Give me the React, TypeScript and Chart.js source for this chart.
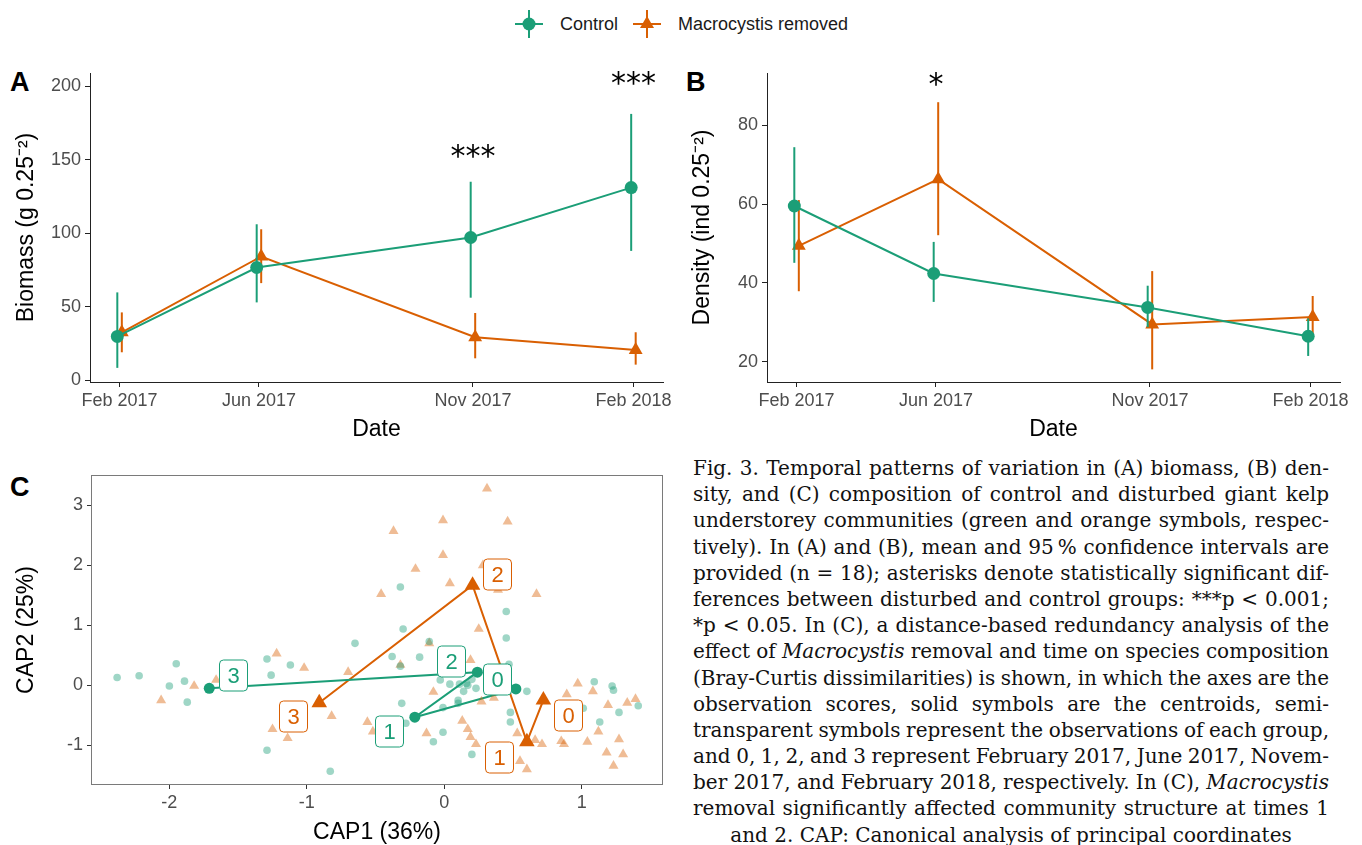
import React, { useEffect, useLayoutEffect, useRef } from "react";
import { Chart, registerables } from "chart.js";

Chart.register(...registerables);
Chart.defaults.font.family = '"Liberation Sans", Arial, sans-serif';

const GREEN = "#1B9E77";
const ORANGE = "#D95F02";
const GREEN_OBS = "rgba(27,158,119,0.42)";
const ORANGE_OBS = "rgba(217,95,2,0.42)";
const TICK_COLOR = "#4D4D4D";

// ---------- Panels A & B: dates ----------
const DATE_LABELS = ["Feb 2017", "Jun 2017", "Nov 2017", "Feb 2018"];
const DATE_DAYS = [0, 99, 251, 365];
const DODGE_DAYS = 1.6;

// Panel A: biomass (mean, 95% CI)
const BIOMASS_CONTROL = [30, 76.8, 97.2, 131.1];
const BIOMASS_CONTROL_LO = [8.6, 53.1, 56.3, 88.1];
const BIOMASS_CONTROL_HI = [59.9, 106.2, 135.1, 181.2];
const BIOMASS_REMOVED = [32.8, 84.3, 29.4, 20.8];
const BIOMASS_REMOVED_LO = [19.2, 66.2, 15.1, 10.8];
const BIOMASS_REMOVED_HI = [46.3, 102.8, 45.9, 32.8];
const BIOMASS_TICKS = [0, 50, 100, 150, 200];
const BIOMASS_SIG_INDEX = [2, 3];
const BIOMASS_SIG_Y = [151, 201];
const BIOMASS_SIG_TEXT = ["***", "***"];

// Panel B: density (mean, 95% CI)
const DENSITY_CONTROL = [59.5, 42.4, 33.8, 26.5];
const DENSITY_CONTROL_LO = [45.1, 35.2, 28.8, 21.5];
const DENSITY_CONTROL_HI = [74.4, 50.4, 39.3, 31.0];
const DENSITY_REMOVED = [49.4, 66.3, 29.5, 31.4];
const DENSITY_REMOVED_LO = [37.9, 52.1, 18.1, 26.0];
const DENSITY_REMOVED_HI = [61.0, 85.8, 43.0, 36.7];
const DENSITY_TICKS = [20, 40, 60, 80];
const DENSITY_SIG_INDEX = [1];
const DENSITY_SIG_Y = [89.8];
const DENSITY_SIG_TEXT = ["*"];

// ---------- Panel C: CAP ordination ----------
const CAP_X_TICKS = [-2, -1, 0, 1];
const CAP_Y_TICKS = [-1, 0, 1, 2, 3];

const CAP_CONTROL_OBS: [number, number][] = [
  [-2.38, 0.13], [-2.22, 0.16], [-1.95, 0.36], [-2.0, -0.01], [-1.89, 0.07], [-1.87, -0.28],
  [-1.29, 0.44], [-1.26, 0.17], [-1.12, 0.34], [-1.29, -1.08],
  [-0.32, 1.64], [0.45, 1.23], [0.45, 0.79], [-0.3, 0.94], [-0.65, 0.7], [-0.11, 0.73],
  [-0.38, 0.48], [-0.18, 0.47], [-0.32, 0.32], [-0.03, 0.09], [0.04, 0.02], [0.11, 0.02],
  [0.14, -0.1], [0.17, 0.0], [0.23, -0.05], [0.2, 0.1], [0.16, 0.03], [0.1, -0.25],
  [-0.31, -0.3], [-0.01, -0.37], [0.1, -0.3], [-0.28, -0.63], [-0.01, -0.78], [-0.08, -0.94],
  [0.2, -1.15], [-0.83, -1.43], [0.48, -0.45], [0.48, -0.61], [0.47, 0.35], [0.6, -0.1],
  [1.09, 0.06], [1.22, -0.01], [1.23, -0.08], [1.41, -0.34], [1.27, -0.45], [1.13, -0.61],
  [1.01, -0.38],
];

const CAP_REMOVED_OBS: [number, number][] = [
  [-2.06, -0.25], [-1.82, -0.01], [-1.66, 0.09], [-1.22, 0.53], [-1.25, -0.73], [-1.14, -0.88],
  [0.31, 3.28], [-0.01, 2.75], [0.46, 2.73], [-0.37, 2.57], [-0.01, 2.17], [-0.21, 1.94],
  [0.28, 2.0], [0.04, 1.7], [-0.46, 1.52], [0.39, 1.59], [0.25, 0.94], [-0.11, 0.7],
  [-1.02, 0.29], [-0.7, 0.22], [-0.32, 0.34], [-0.08, -0.11], [-0.82, -0.51], [-0.56, -0.61],
  [-0.52, -0.77], [-0.13, -0.8], [0.13, -0.59], [0.17, -0.73], [0.19, -0.86], [0.23, -0.98],
  [0.27, -0.27], [0.36, -0.21], [0.19, 0.42],
  [0.67, 1.52], [0.97, 0.03], [1.08, -0.1], [0.89, -0.15], [1.19, -0.33], [1.33, -0.29],
  [1.39, -0.23], [1.12, -0.77], [1.27, -0.9], [1.04, -0.94], [0.85, -0.93], [0.87, -0.98],
  [0.71, -0.98], [0.66, -0.91], [0.53, -0.8], [1.18, -1.12], [1.3, -1.15], [1.23, -1.34],
  [0.55, -1.26], [0.6, -1.4],
];

// centroids in time order 0,1,2,3
const CAP_CONTROL_CENTROIDS: [number, number][] = [[0.52, -0.06], [-0.215, -0.53], [0.24, 0.22], [-1.71, -0.05]];
const CAP_REMOVED_CENTROIDS: [number, number][] = [[0.72, -0.245], [0.6, -0.94], [0.205, 1.67], [-0.91, -0.29]];
const CAP_TIME_LABELS = ["0", "1", "2", "3"];
const CAP_CONTROL_LABEL_POS: [number, number][] = [[0.38, 0.1], [-0.4, -0.76], [0.05, 0.41], [-1.54, 0.17]];
const CAP_REMOVED_LABEL_POS: [number, number][] = [[0.9, -0.5], [0.4, -1.19], [0.38, 1.86], [-1.1, -0.51]];

const CAPTION_LINES = [
  "Fig. 3. Temporal patterns of variation in (A) biomass, (B) den-",
  "sity, and (C) composition of control and disturbed giant kelp",
  "understorey communities (green and orange symbols, respec-",
  "tively). In (A) and (B), mean and 95\u2009% confidence intervals are",
  "provided (n = 18); asterisks denote statistically significant dif-",
  "ferences between disturbed and control groups: ***p < 0.001;",
  "*p < 0.05. In (C), a distance-based redundancy analysis of the",
  "effect of |Macrocystis| removal and time on species composition",
  "(Bray-Curtis dissimilarities) is shown, in which the axes are the",
  "observation scores, solid symbols are the centroids, semi-",
  "transparent symbols represent the observations of each group,",
  "and 0, 1, 2, and 3 represent February 2017, June 2017, Novem-",
  "ber 2017, and February 2018, respectively. In (C), |Macrocystis|",
  "removal significantly affected community structure at times 1",
  "and 2. CAP: Canonical analysis of principal coordinates",
];
const CAPTION_WIDTH = 636;

// ---------- plugins ----------
const errorBarPlugin = {
  id: "errorBars",
  beforeDatasetDraw(chart: any, args: any) {
    const ds = chart.data.datasets[args.index];
    if (!ds.lo) return;
    const { ctx } = chart;
    const xs = chart.scales.x;
    const ys = chart.scales.y;
    ctx.save();
    ctx.strokeStyle = ds.borderColor;
    ctx.lineWidth = 2;
    ds.data.forEach((p: any, i: number) => {
      const px = xs.getPixelForValue(p.x);
      ctx.beginPath();
      ctx.moveTo(px, ys.getPixelForValue(ds.lo[i]));
      ctx.lineTo(px, ys.getPixelForValue(ds.hi[i]));
      ctx.stroke();
    });
    ctx.restore();
  },
};

function makeSigPlugin(idx: number[], ys: number[], texts: string[]) {
  return {
    id: "sig",
    afterDatasetsDraw(chart: any) {
      const { ctx } = chart;
      ctx.save();
      ctx.fillStyle = "#000";
      ctx.font = '30px "DejaVu Sans", sans-serif';
      ctx.textAlign = "center";
      ctx.textBaseline = "middle";
      idx.forEach((k, i) => {
        const px = chart.scales.x.getPixelForValue(DATE_DAYS[k]);
        const py = chart.scales.y.getPixelForValue(ys[i]);
        ctx.fillText(texts[i], px, py);
      });
      ctx.restore();
    },
  };
}

const TITLE_FONT = { size: 23, lineHeight: 1 };
const TICK_FONT = { size: 18 };

function timeConfig(o: any) {
  const ctrl = DATE_DAYS.map((d, i) => ({ x: d - DODGE_DAYS, y: o.ctrl[i] }));
  const rem = DATE_DAYS.map((d, i) => ({ x: d + DODGE_DAYS, y: o.rem[i] }));
  return {
    type: "scatter",
    data: {
      datasets: [
        {
          data: ctrl, lo: o.ctrlLo, hi: o.ctrlHi, showLine: true,
          borderColor: GREEN, backgroundColor: GREEN, borderWidth: 2,
          pointStyle: "circle", pointRadius: 6.5, pointBorderWidth: 0,
        },
        {
          data: rem, lo: o.remLo, hi: o.remHi, showLine: true,
          borderColor: ORANGE, backgroundColor: ORANGE, borderWidth: 2,
          pointStyle: "triangle", pointRadius: 8, pointBorderWidth: 0,
        },
      ],
    },
    options: {
      responsive: false,
      animation: false,
      devicePixelRatio: 1,
      layout: { padding: { left: 0, right: o.padRight, top: 23, bottom: 0 } },
      plugins: { legend: { display: false }, tooltip: { enabled: false } },
      scales: {
        x: {
          type: "linear", min: -21, max: 386,
          afterBuildTicks: (s: any) => { s.ticks = DATE_DAYS.map((v) => ({ value: v })); },
          afterFit: (s: any) => { s.height = 68; },
          ticks: {
            callback: (v: any) => DATE_LABELS[DATE_DAYS.indexOf(v)],
            color: TICK_COLOR, font: TICK_FONT, padding: 3, maxRotation: 0, autoSkip: false,
          },
          grid: { drawOnChartArea: false, tickLength: 5, color: "#222" },
          border: { color: "#222", width: 1 },
          title: { display: true, text: "Date", color: "#000", font: TITLE_FONT, padding: { top: 0, bottom: 8.5 } },
        },
        y: {
          type: "linear", min: o.yMin, max: o.yMax,
          afterBuildTicks: (s: any) => { s.ticks = o.yTicks.map((v: number) => ({ value: v })); },
          afterFit: (s: any) => { s.width = o.yWidth; },
          ticks: { color: TICK_COLOR, font: TICK_FONT, padding: 4 },
          grid: { drawOnChartArea: false, tickLength: 5, color: "#222" },
          border: { color: "#222", width: 1 },
          title: { display: true, text: o.yTitle, color: "#000", font: TITLE_FONT, padding: { top: o.yTitlePad, bottom: 0 } },
        },
      },
    },
    plugins: [errorBarPlugin, makeSigPlugin(o.sigIdx, o.sigY, o.sigText)],
  };
}

const capFramePlugin = {
  id: "capFrame",
  afterDatasetsDraw(chart: any) {
    const { ctx, chartArea: a } = chart;
    ctx.save();
    ctx.strokeStyle = "#7A7A7A";
    ctx.lineWidth = 1;
    ctx.strokeRect(a.left + 0.5, a.top + 0.5, a.right - a.left - 1, a.bottom - a.top - 1);
    ctx.restore();
  },
};

const capLabelPlugin = {
  id: "capLabels",
  afterDatasetsDraw(chart: any) {
    const { ctx } = chart;
    const xs = chart.scales.x;
    const ys = chart.scales.y;
    const groups: [[number, number][], string][] = [
      [CAP_CONTROL_LABEL_POS, GREEN],
      [CAP_REMOVED_LABEL_POS, ORANGE],
    ];
    ctx.save();
    groups.forEach(([pos, color]) => {
      pos.forEach((p, i) => {
        const px = Math.round(xs.getPixelForValue(p[0]));
        const py = Math.round(ys.getPixelForValue(p[1]));
        const w = 28, h = 31;
        ctx.beginPath();
        ctx.roundRect(px - w / 2 + 0.5, py - h / 2 + 0.5, w, h, 4);
        ctx.fillStyle = "#fff";
        ctx.fill();
        ctx.lineWidth = 1;
        ctx.strokeStyle = color;
        ctx.stroke();
        ctx.fillStyle = color;
        ctx.font = '22px "Liberation Sans", Arial, sans-serif';
        ctx.textAlign = "center";
        ctx.textBaseline = "middle";
        ctx.fillText(CAP_TIME_LABELS[i], px + 0.5, py + 1.5);
      });
    });
    ctx.restore();
  },
};

function capConfig() {
  const toPts = (arr: [number, number][]) => arr.map(([x, y]) => ({ x, y }));
  return {
    type: "scatter",
    data: {
      datasets: [
        {
          data: toPts(CAP_CONTROL_OBS), backgroundColor: GREEN_OBS, borderWidth: 0,
          pointStyle: "circle", pointRadius: 3.8,
        },
        {
          data: toPts(CAP_REMOVED_OBS), backgroundColor: ORANGE_OBS, borderWidth: 0,
          pointStyle: "triangle", pointRadius: 5.8,
        },
        {
          data: toPts(CAP_CONTROL_CENTROIDS), showLine: true, borderColor: GREEN, backgroundColor: GREEN,
          borderWidth: 2, pointStyle: "circle", pointRadius: 5.5, pointBorderWidth: 0,
        },
        {
          data: toPts(CAP_REMOVED_CENTROIDS), showLine: true, borderColor: ORANGE, backgroundColor: ORANGE,
          borderWidth: 2, pointStyle: "triangle", pointRadius: 9, pointBorderWidth: 0,
        },
      ],
    },
    options: {
      responsive: false,
      animation: false,
      devicePixelRatio: 1,
      layout: { padding: { left: 0, right: 17, top: 15, bottom: 0 } },
      plugins: { legend: { display: false }, tooltip: { enabled: false } },
      scales: {
        x: {
          type: "linear", min: -2.57, max: 1.59,
          afterBuildTicks: (s: any) => { s.ticks = CAP_X_TICKS.map((v) => ({ value: v })); },
          afterFit: (s: any) => { s.height = 60; },
          ticks: { callback: (v: any) => String(v), color: TICK_COLOR, font: TICK_FONT, padding: 3 },
          grid: { drawOnChartArea: false, tickLength: 4, color: "#333" },
          border: { display: false },
          title: { display: true, text: "CAP1 (36%)", color: "#000", font: TITLE_FONT, padding: { top: 0, bottom: 0.5 } },
        },
        y: {
          type: "linear", min: -1.66, max: 3.505,
          afterBuildTicks: (s: any) => { s.ticks = CAP_Y_TICKS.map((v) => ({ value: v })); },
          afterFit: (s: any) => { s.width = 91; },
          ticks: { callback: (v: any) => String(v), color: TICK_COLOR, font: TICK_FONT, padding: 4 },
          grid: { drawOnChartArea: false, tickLength: 4, color: "#333" },
          border: { display: false },
          title: { display: true, text: "CAP2 (25%)", color: "#000", font: TITLE_FONT, padding: { top: 15.5, bottom: 0 } },
        },
      },
    },
    plugins: [capFramePlugin, capLabelPlugin],
  };
}

function ChartCanvas({ make, left, top, width, height }: any) {
  const ref = useRef<HTMLCanvasElement>(null);
  useEffect(() => {
    const chart = new Chart(ref.current as HTMLCanvasElement, make());
    return () => chart.destroy();
  }, []);
  return (
    <canvas
      ref={ref}
      width={width}
      height={height}
      style={{ position: "absolute", left, top, width, height }}
    />
  );
}

function LegendMarker({ color, shape, left }: any) {
  return (
    <svg width={28} height={28} style={{ position: "absolute", left, top: 10 }}>
      <line x1={0} y1={14} x2={28} y2={14} stroke={color} strokeWidth={2} />
      <line x1={14} y1={0} x2={14} y2={28} stroke={color} strokeWidth={2} />
      {shape === "circle" ? (
        <circle cx={14} cy={14} r={6.5} fill={color} />
      ) : (
        <polygon points="14,6 21,18 7,18" fill={color} />
      )}
    </svg>
  );
}

function CaptionLine({ text, last }: any) {
  const ref = useRef<HTMLSpanElement>(null);
  useLayoutEffect(() => {
    const el = ref.current;
    if (!el || last) return;
    el.style.wordSpacing = "0px";
    const natural = el.getBoundingClientRect().width;
    const spaces = (text.match(/ /g) || []).length;
    if (spaces > 0) el.style.wordSpacing = (CAPTION_WIDTH - natural) / spaces + "px";
  }, [text, last]);
  const parts = text.split("|");
  return (
    <div style={{ whiteSpace: "nowrap", textAlign: last ? "center" : "left", height: 26.2, lineHeight: "26.2px" }}>
      <span ref={ref}>
        {parts.map((p: string, i: number) => (i % 2 === 1 ? <i key={i}>{p}</i> : <span key={i}>{p}</span>))}
      </span>
    </div>
  );
}

export default function App() {
  const letter = { position: "absolute", fontWeight: "bold", fontSize: 27, lineHeight: "27px", color: "#000" } as any;
  return (
    <div
      style={{
        position: "absolute", left: 0, top: 0, width: 1362, height: 845, background: "#fff",
        fontFamily: '"Liberation Sans", Arial, sans-serif', overflow: "hidden",
      }}
    >
      <LegendMarker color={GREEN} shape="circle" left={515} />
      <div style={{ position: "absolute", left: 560, top: 14, fontSize: 18, lineHeight: "20px", color: "#1a1a1a" }}>Control</div>
      <LegendMarker color={ORANGE} shape="triangle" left={633} />
      <div style={{ position: "absolute", left: 678, top: 14, fontSize: 18, lineHeight: "20px", color: "#1a1a1a" }}>Macrocystis removed</div>

      <div style={{ ...letter, left: 10, top: 69 }}>A</div>
      <div style={{ ...letter, left: 686, top: 69 }}>B</div>
      <div style={{ ...letter, left: 10, top: 474 }}>C</div>

      <ChartCanvas
        left={0} top={50} width={680} height={400}
        make={() => timeConfig({
          ctrl: BIOMASS_CONTROL, ctrlLo: BIOMASS_CONTROL_LO, ctrlHi: BIOMASS_CONTROL_HI,
          rem: BIOMASS_REMOVED, remLo: BIOMASS_REMOVED_LO, remHi: BIOMASS_REMOVED_HI,
          yMin: -1, yMax: 209, yTicks: BIOMASS_TICKS, yWidth: 90, padRight: 17,
          yTitle: "Biomass (g 0.25\u207B\u00B2)", yTitlePad: 15.5,
          sigIdx: BIOMASS_SIG_INDEX, sigY: BIOMASS_SIG_Y, sigText: BIOMASS_SIG_TEXT,
        })}
      />
      <ChartCanvas
        left={680} top={50} width={682} height={400}
        make={() => timeConfig({
          ctrl: DENSITY_CONTROL, ctrlLo: DENSITY_CONTROL_LO, ctrlHi: DENSITY_CONTROL_HI,
          rem: DENSITY_REMOVED, remLo: DENSITY_REMOVED_LO, remHi: DENSITY_REMOVED_HI,
          yMin: 14.9, yMax: 93.2, yTicks: DENSITY_TICKS, yWidth: 87, padRight: 22,
          yTitle: "Density (ind 0.25\u207B\u00B2)", yTitlePad: 11.5,
          sigIdx: DENSITY_SIG_INDEX, sigY: DENSITY_SIG_Y, sigText: DENSITY_SIG_TEXT,
        })}
      />
      <ChartCanvas left={0} top={460} width={680} height={385} make={capConfig} />

      <div
        style={{
          position: "absolute", left: 693, top: 455, width: CAPTION_WIDTH,
          fontFamily: '"DejaVu Serif", "Liberation Serif", serif', fontSize: 20, color: "#111",
        }}
      >
        {CAPTION_LINES.map((t, i) => (
          <CaptionLine key={i} text={t} last={i === CAPTION_LINES.length - 1} />
        ))}
      </div>
    </div>
  );
}
